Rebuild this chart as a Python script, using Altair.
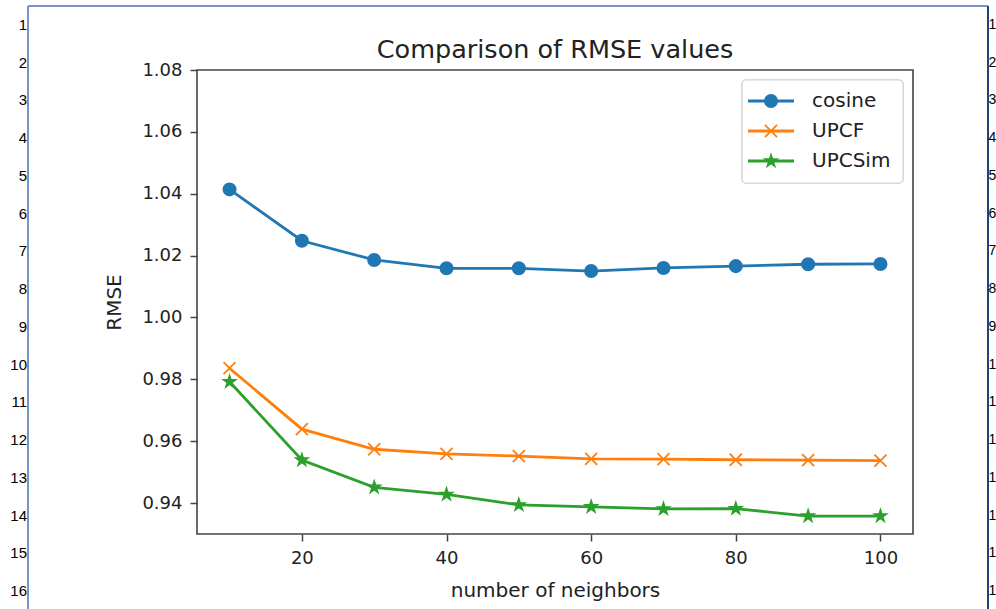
import altair as alt
import pandas as pd

neighbors = [10, 20, 30, 40, 50, 60, 70, 80, 90, 100]
series_names = ["cosine", "UPCF", "UPCSim"]
cosine = [1.0414, 1.0248, 1.0186, 1.0159, 1.0159, 1.0150, 1.0160, 1.0166, 1.0172, 1.0173]
upcf = [0.9836, 0.9639, 0.9574, 0.9559, 0.9552, 0.9543, 0.9542, 0.9540, 0.9539, 0.9537]
upcsim = [0.9792, 0.9539, 0.9451, 0.9428, 0.9394, 0.9388, 0.9381, 0.9382, 0.9358, 0.9358]
y_ticks = [0.94, 0.96, 0.98, 1.00, 1.02, 1.04, 1.06, 1.08]
x_ticks = [20, 40, 60, 80, 100]
colors = ["#1f77b4", "#ff7f0e", "#2ca02c"]
title_text = ["Comparison of RMSE values"]
left_rows = [str(i) for i in range(1, 17)]
right_rows = ["1", "2", "3", "4", "5", "6", "7", "8", "9", "1", "1", "1", "1", "1", "1", "1"]

STAR = ("M0,-1L0.2245,-0.309L0.9511,-0.309L0.3633,0.118L0.5878,0.809L0,0.382"
        "L-0.5878,0.809L-0.3633,0.118L-0.9511,-0.309L-0.2245,-0.309Z")
XMARK = "M-1,-1L1,1M-1,1L1,-1"

rows = []
for name, vals in zip(series_names, [cosine, upcf, upcsim]):
    for n, v in zip(neighbors, vals):
        rows.append({"neighbors": n, "rmse": v, "series": name})
df = pd.DataFrame(rows)
leg_df = pd.DataFrame({"series": series_names})
num_df = pd.DataFrame({"row": list(range(1, 17)), "left": left_rows, "right": right_rows})
title_df = pd.DataFrame({"title": title_text})

FONT = "DejaVu Sans"
color_scale = alt.Scale(domain=series_names, range=colors)
shape_scale = alt.Scale(domain=series_names, range=["circle", XMARK, STAR])
size_scale = alt.Scale(domain=series_names, range=[150, 140, 175])

x_enc = alt.X("neighbors:Q", scale=alt.Scale(domain=[5.5, 104.5], nice=False),
              axis=alt.Axis(values=x_ticks, title="number of neighbors", format="d"))
y_scale = alt.Scale(domain=[0.93, 1.08], nice=False, zero=False)
y_enc = alt.Y("rmse:Q", scale=y_scale,
              axis=alt.Axis(values=y_ticks, title="RMSE", format=".2f"))

lines = alt.Chart(df).mark_line(strokeWidth=2.8).encode(
    x=x_enc, y=y_enc,
    color=alt.Color("series:N", scale=color_scale, legend=None),
    detail="series:N",
)
points = alt.Chart(df).mark_point(filled=True, opacity=1, strokeWidth=1.8).encode(
    x=x_enc, y=y_enc,
    color=alt.Color("series:N", scale=color_scale, legend=None),
    stroke=alt.Stroke("series:N", scale=color_scale, legend=None),
    shape=alt.Shape("series:N", scale=shape_scale, legend=None),
    size=alt.Size("series:N", scale=size_scale, legend=None),
)
data_layer = alt.layer(lines, points)

leg_y = alt.Y("series:N", scale=alt.Scale(type="point", domain=series_names, range=[31, 91], padding=0), axis=None)
leg_box = alt.Chart(leg_df).mark_rect(fill="white", stroke="#d6d6d6", strokeWidth=1.2, cornerRadius=4).encode(
    x=alt.value(545), x2=alt.value(706), y=alt.value(10), y2=alt.value(113)
)
leg_line = alt.Chart(leg_df).mark_rule(strokeWidth=2.8).encode(
    x=alt.value(551), x2=alt.value(597), y=leg_y,
    color=alt.Color("series:N", scale=color_scale, legend=None),
)
leg_pt = alt.Chart(leg_df).mark_point(filled=True, opacity=1, strokeWidth=1.8).encode(
    x=alt.value(574), y=leg_y,
    color=alt.Color("series:N", scale=color_scale, legend=None),
    stroke=alt.Stroke("series:N", scale=color_scale, legend=None),
    shape=alt.Shape("series:N", scale=shape_scale, legend=None),
    size=alt.Size("series:N", scale=size_scale, legend=None),
)
leg_txt = alt.Chart(leg_df).mark_text(align="left", baseline="middle", font=FONT, fontSize=20, color="#222").encode(
    x=alt.value(615), y=leg_y, text="series:N"
)

title_mark = alt.Chart(title_df).mark_text(align="center", baseline="alphabetic", font=FONT, fontSize=25.5, color="#222").encode(
    x=alt.value(358), y=alt.value(-12), text="title:N"
)

num_y = alt.Y("row:Q", scale=alt.Scale(domain=[1, 16], range=[-45, 521]), axis=None)
nums_left = alt.Chart(num_df).mark_text(align="right", baseline="middle", font="Liberation Sans", fontSize=15, color="#000").encode(
    x=alt.value(-170), y=num_y, text="left:N"
)
nums_right = alt.Chart(num_df).mark_text(align="left", baseline="middle", font="Liberation Sans", fontSize=14, color="#000").encode(
    x=alt.value(791.5), y=num_y, text="right:N"
)
border_left = alt.Chart(leg_df).mark_rule(color="#7395c6", strokeWidth=1.5).encode(
    x=alt.value(-169), y=alt.value(-64), y2=alt.value(540)
)
border_top = alt.Chart(leg_df).mark_rule(color="#7395c6", strokeWidth=1.5).encode(
    x=alt.value(-169), x2=alt.value(791), y=alt.value(-64)
)
border_right = alt.Chart(leg_df).mark_rule(color="#1f3f78", strokeWidth=1.5).encode(
    x=alt.value(791), y=alt.value(-64), y2=alt.value(540)
)

chart = alt.layer(
    border_left, border_top, border_right, nums_left, nums_right, title_mark,
    data_layer, leg_box, leg_line, leg_pt, leg_txt,
).resolve_scale(y="independent").properties(
    width=716, height=464,
    autosize=alt.AutoSizeParams(type="none"),
    padding={"left": 197, "top": 70, "right": 83, "bottom": 75},
).configure_view(
    stroke="#444", strokeWidth=1.6
).configure_axis(
    grid=False, domain=False,
    labelFont=FONT, labelFontSize=18, labelColor="#222",
    titleFont=FONT, titleFontSize=20, titleFontWeight="normal", titleColor="#222",
    tickColor="#444", tickWidth=1.5, tickSize=7, labelPadding=8,
).configure_axisX(titlePadding=13).configure_axisY(titlePadding=17)

chart.save("out.html", embed_options={"renderer": "svg", "actions": False})
